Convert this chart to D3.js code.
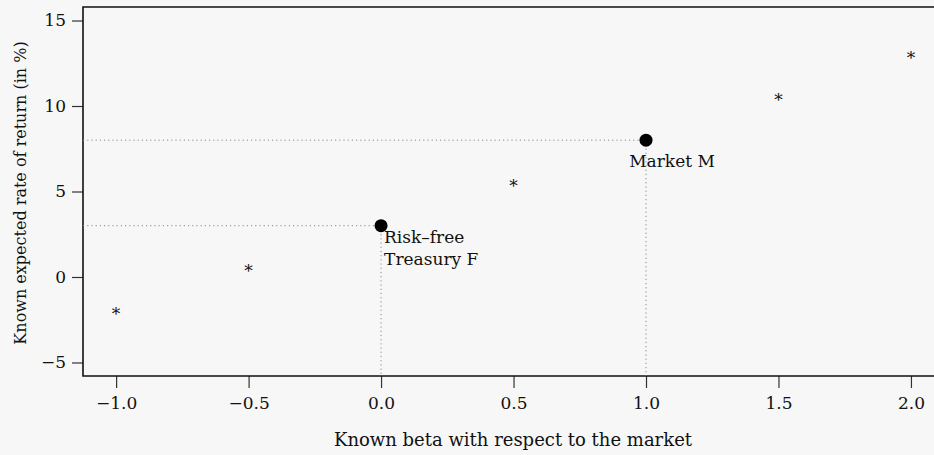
<!DOCTYPE html>
<html>
<head>
<meta charset="utf-8">
<script src="https://cdn.jsdelivr.net/npm/d3@7"></script>
<style>
  body { margin: 0; background: #f7f7f7; }
  svg { display: block; }
  text { font-family: "DejaVu Serif", serif; fill: #111; }
</style>
</head>
<body>
<svg id="chart" width="934" height="455"></svg>
<script>
// known securities (beta, expected return %)
var knownBeta = [-1.0, -0.5, 0.5, 1.5, 2.0];
var knownReturn = [-2, 0.5, 5.5, 10.5, 13];

// the two reference portfolios
var refNames = [["Risk\u2013free", "Treasury F"], ["Market M"]];
var refBeta = [0, 1];
var refReturn = [3, 8];

var xTicks = [-1.0, -0.5, 0.0, 0.5, 1.0, 1.5, 2.0];
var yTicks = [-5, 0, 5, 10, 15];

var width = 934, height = 455;
var margin = { top: 7, right: 0, bottom: 79, left: 83 };

var svg = d3.select("#chart");

var x = d3.scaleLinear()
	.domain([-1.125, 2.087])
	.range([margin.left, width - margin.right]);
var y = d3.scaleLinear()
	.domain([-5.79, 15.79])
	.range([height - margin.bottom, margin.top]);

var ink = "#111";

// axes
var xAxis = svg.append("g")
	.attr("transform", "translate(0," + (height - margin.bottom) + ")")
	.call(d3.axisBottom(x).tickValues(xTicks).tickSize(12).tickPadding(9)
		.tickFormat(function(d) { return d3.format(".1f")(d).replace("-", "\u2212"); }));
var yAxis = svg.append("g")
	.attr("transform", "translate(" + margin.left + ",0)")
	.call(d3.axisLeft(y).tickValues(yTicks).tickSize(11).tickPadding(6)
		.tickFormat(function(d) { return String(d).replace("-", "\u2212"); }));

[xAxis, yAxis].forEach(function(a) {
	a.select(".domain").remove();
	a.selectAll(".tick line").attr("stroke", "#333").attr("stroke-width", 1.2);
	a.selectAll(".tick text").attr("font-family", "DejaVu Serif").attr("font-size", 17).attr("fill", ink);
});

// frame: left, top, bottom
svg.append("path")
	.attr("d", "M" + width + "," + y.range()[1] + "H" + margin.left + "V" + y.range()[0] + "H" + width)
	.attr("fill", "none")
	.attr("stroke", ink)
	.attr("stroke-width", 1.6);

// dotted guides to the reference points
var guides = svg.append("g")
	.attr("stroke", "#888")
	.attr("stroke-width", 1)
	.attr("stroke-dasharray", "1.2,3");
refBeta.forEach(function(b, i) {
	guides.append("line")
		.attr("x1", margin.left).attr("x2", x(b))
		.attr("y1", y(refReturn[i])).attr("y2", y(refReturn[i]));
	guides.append("line")
		.attr("x1", x(b)).attr("x2", x(b))
		.attr("y1", y(refReturn[i])).attr("y2", y.range()[0]);
});

// asterisks
svg.append("g").selectAll("text")
	.data(knownBeta)
	.enter().append("text")
	.attr("x", function(d) { return x(d); })
	.attr("y", function(d, i) { return y(knownReturn[i]) + 9; })
	.attr("text-anchor", "middle")
	.attr("font-size", 17)
	.attr("fill", "#333")
	.text("*");

// reference points
svg.append("g").selectAll("circle")
	.data(refBeta)
	.enter().append("circle")
	.attr("cx", function(d) { return x(d); })
	.attr("cy", function(d, i) { return y(refReturn[i]); })
	.attr("r", 6.5)
	.attr("fill", "#000");

// labels
var lab0 = svg.append("text")
	.attr("x", x(refBeta[0]) + 3)
	.attr("y", y(refReturn[0]) + 17)
	.attr("font-size", 17);
refNames[0].forEach(function(s, i) {
	lab0.append("tspan").attr("x", x(refBeta[0]) + 3).attr("dy", i ? 22 : 0).text(s);
});
svg.append("text")
	.attr("x", x(refBeta[1]) + 26)
	.attr("y", y(refReturn[1]) + 27)
	.attr("text-anchor", "middle")
	.attr("font-size", 17)
	.text(refNames[1][0]);

// axis titles
svg.append("text")
	.attr("x", 513)
	.attr("y", 446)
	.attr("text-anchor", "middle")
	.attr("font-size", 18)
	.text("Known beta with respect to the market");
svg.append("text")
	.attr("transform", "translate(26,193) rotate(-90)")
	.attr("text-anchor", "middle")
	.attr("font-size", 16)
	.text("Known expected rate of return (in %)");
</script>
</body>
</html>
